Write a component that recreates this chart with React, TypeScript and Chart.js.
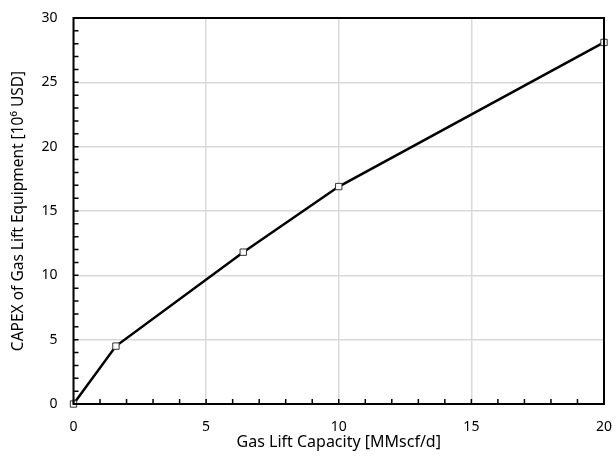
import React, { useEffect, useRef } from "react";
import { Chart, registerables } from "chart.js";

Chart.register(...registerables);

// Gas lift capacity [MMscf/d] vs. equipment CAPEX [10^6 USD]
const capacity = [0, 1.6, 6.4, 10, 20];
const capex = [0, 4.5, 11.8, 16.9, 28.1];

const xMax = 20;
const yMax = 30;
const majorStep = 5;
const minorStep = 1;

const xTitle = "Gas Lift Capacity [MMscf/d]";
const yTitle = "CAPEX of Gas Lift Equipment [10\u2076 USD]";

const FONT = "'Noto Sans', 'Open Sans', sans-serif";

// Frame around the plot area plus short inward-pointing ticks at every unit.
const frameAndTicks = {
  id: "frameAndTicks",
  afterDatasetsDraw(chart: any) {
    const { ctx, chartArea, scales } = chart;
    const { left, right, top, bottom } = chartArea;
    ctx.save();
    ctx.strokeStyle = "#000";
    ctx.lineWidth = 1.5;
    ctx.beginPath();
    for (let v = 0; v <= xMax; v += minorStep) {
      const px = scales.x.getPixelForValue(v);
      ctx.moveTo(px, bottom);
      ctx.lineTo(px, bottom - 5);
    }
    for (let v = 0; v <= yMax; v += minorStep) {
      const py = scales.y.getPixelForValue(v);
      ctx.moveTo(left, py);
      ctx.lineTo(left + 5, py);
    }
    ctx.stroke();
    ctx.lineWidth = 2;
    ctx.strokeRect(left, top, right - left, bottom - top);
    ctx.restore();
  },
};

export default function App() {
  const canvasRef = useRef<HTMLCanvasElement | null>(null);

  useEffect(() => {
    if (!canvasRef.current) return;
    const chart = new Chart(canvasRef.current, {
      type: "line",
      data: {
        datasets: [
          {
            data: capacity.map((x, i) => ({ x, y: capex[i] })),
            borderColor: "#000",
            borderWidth: 2.5,
            pointStyle: "rect",
            pointRadius: 4.5,
            pointBorderWidth: 1,
            pointBorderColor: "#333",
            pointBackgroundColor: "#fff",
            tension: 0,
            clip: false,
          },
        ],
      },
      options: {
        animation: false,
        responsive: false,
        maintainAspectRatio: false,
        layout: { padding: { top: 18, right: 12, left: 0, bottom: 0 } },
        plugins: { legend: { display: false }, tooltip: { enabled: false } },
        scales: {
          x: {
            type: "linear",
            min: 0,
            max: xMax,
            afterFit(scale: any) {
              scale.height = 55;
              scale.paddingLeft = 0;
              scale.paddingRight = 0;
            },
            ticks: {
              stepSize: majorStep,
              color: "#000",
              padding: 15,
              font: { family: FONT, size: 14 },
            },
            grid: { color: "#d9d9d9", lineWidth: 1.5, drawTicks: false },
            border: { display: false },
            title: {
              display: true,
              text: xTitle,
              color: "#000",
              padding: { top: 0, bottom: 7 },
              font: { family: FONT, size: 16 },
            },
          },
          y: {
            type: "linear",
            min: 0,
            max: yMax,
            afterFit(scale: any) {
              scale.width = 73.5;
              scale.paddingTop = 0;
              scale.paddingBottom = 0;
            },
            ticks: {
              stepSize: majorStep,
              color: "#000",
              padding: 16,
              font: { family: FONT, size: 14 },
            },
            grid: { color: "#d9d9d9", lineWidth: 1.5, drawTicks: false },
            border: { display: false },
            title: {
              display: true,
              text: yTitle,
              color: "#000",
              padding: { top: 9, bottom: 0 },
              font: { family: FONT, size: 15.5 },
            },
          },
        },
      },
      plugins: [frameAndTicks],
    } as any);
    return () => chart.destroy();
  }, []);

  return (
    <div style={{ position: "fixed", left: 0, top: 0, width: 616, height: 459, background: "#fff" }}>
      <canvas ref={canvasRef} width={616} height={459} style={{ width: 616, height: 459 }} />
    </div>
  );
}
